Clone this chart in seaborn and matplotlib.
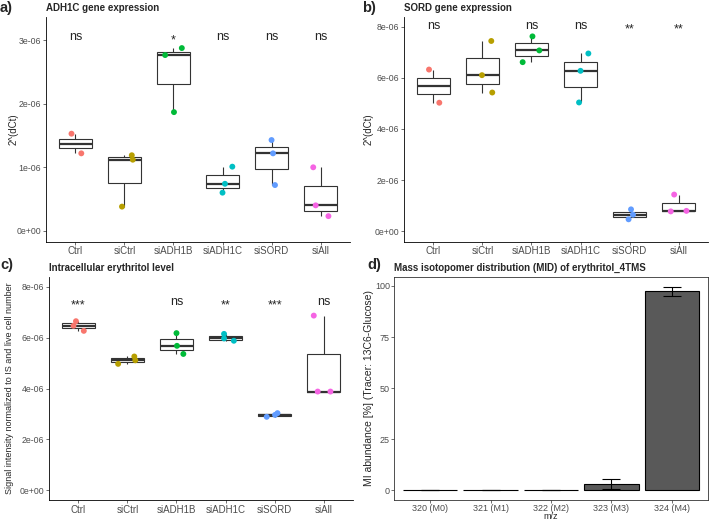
import matplotlib
matplotlib.use("Agg")
import matplotlib.pyplot as plt
from matplotlib.ticker import FuncFormatter
import pandas as pd
import seaborn as sns

groups = ["Ctrl", "siCtrl", "siADH1B", "siADH1C", "siSORD", "siAll"]
group_colors = ["#F8766D", "#B79F00", "#00BA38", "#00BFC4", "#619CFF", "#F564E3"]

# a) ADH1C expression, 2^(dCt)
adh1c_group = ["Ctrl", "Ctrl", "siCtrl", "siCtrl", "siCtrl",
               "siADH1B", "siADH1B", "siADH1B", "siADH1C", "siADH1C", "siADH1C",
               "siSORD", "siSORD", "siSORD", "siAll", "siAll", "siAll"]
adh1c_expr = [1.53e-6, 1.22e-6, 0.38e-6, 1.12e-6, 1.19e-6,
              2.77e-6, 2.88e-6, 1.87e-6, 1.01e-6, 0.74e-6, 0.60e-6,
              1.43e-6, 1.22e-6, 0.72e-6, 1.00e-6, 0.40e-6, 0.23e-6]
adh1c_jitter = [-0.08, 0.12, -0.05, 0.17, 0.15, -0.17, 0.17, 0.01, 0.20, 0.05, 0.0,
                0.0, 0.03, 0.07, -0.15, -0.10, 0.16]
adh1c_sig = ["ns", "", "*", "ns", "ns", "ns"]

# b) SORD expression
sord_group = adh1c_group
sord_expr = [6.33e-6, 5.03e-6, 7.45e-6, 6.11e-6, 5.43e-6,
             7.63e-6, 7.08e-6, 6.62e-6, 6.96e-6, 6.28e-6, 5.04e-6,
             0.85e-6, 0.64e-6, 0.46e-6, 1.43e-6, 0.77e-6, 0.79e-6]
sord_jitter = [-0.09, 0.12, 0.18, -0.01, 0.20, 0.02, 0.16, -0.18, 0.16, 0.0, -0.03,
               0.03, 0.07, -0.02, -0.09, -0.16, 0.16]
sord_sig = ["ns", "", "ns", "ns", "**", "**"]

# c) intracellular erythritol
ery_group = ["Ctrl", "Ctrl", "Ctrl", "siCtrl", "siCtrl", "siCtrl",
             "siADH1B", "siADH1B", "siADH1B", "siADH1C", "siADH1C", "siADH1C",
             "siSORD", "siSORD", "siSORD", "siAll", "siAll", "siAll"]
ery_level = [6.65e-6, 6.47e-6, 6.27e-6, 5.26e-6, 5.11e-6, 4.97e-6,
             6.18e-6, 5.68e-6, 5.36e-6, 6.15e-6, 5.97e-6, 5.88e-6,
             2.885e-6, 2.96e-6, 3.03e-6, 6.87e-6, 3.88e-6, 3.88e-6]
ery_jitter = [-0.05, -0.10, 0.11, 0.14, 0.16, -0.19, 0.0, 0.01, 0.14, -0.03, -0.03, 0.17,
              -0.16, 0.01, 0.06, -0.20, -0.12, 0.14]
ery_sig = ["***", "", "ns", "**", "***", "ns"]

# d) MID of erythritol_4TMS
mid_labels = ["320 (M0)", "321 (M1)", "322 (M2)", "323 (M3)", "324 (M4)"]
mid_mean = [0.0, 0.0, 0.0, 3.07, 97.4]
mid_sd = [0.0, 0.0, 0.0, 2.4, 2.3]

W, H = 713, 521
TICK_GREY = "#4D4D4D"
LINE_GREY = "#333333"

sns.set_theme(style="ticks")
plt.rcParams["font.family"] = ["Liberation Sans", "DejaVu Sans"]


def px_axes(fig, left, top, right, bottom):
    return fig.add_axes([left / W, 1 - bottom / H, (right - left) / W, (bottom - top) / H])


def sci(v, pos):
    return f"{v:.0e}"


def box_panel(ax, grp, vals, jit, sig, sig_y, ylim, yticks, title, ylabel,
              ylabel_x, ylabel_size=7):
    df = pd.DataFrame({"group": grp, "value": vals, "jitter": jit})
    df["x"] = df["group"].map({g: i for i, g in enumerate(groups)}) + df["jitter"]

    sns.boxplot(data=df, x="group", y="value", order=groups, color="white",
                linecolor=LINE_GREY, linewidth=0.8, width=0.68, showfliers=False,
                capprops={"linewidth": 0}, medianprops={"linewidth": 1.6},
                ax=ax)
    sns.scatterplot(data=df, x="x", y="value", hue="group", hue_order=groups,
                    palette=group_colors, legend=False, s=18, linewidth=0,
                    zorder=3, ax=ax)
    for i, lab in enumerate(sig):
        if not lab:
            continue
        # asterisks sit high in the font, nudge them down
        dy = -2.5 if lab.startswith("*") else 0
        ax.annotate(lab, (i, sig_y), xytext=(0, dy), textcoords="offset points",
                    ha="center", va="center", fontsize=9)

    ax.set_xlim(-0.6, 5.6)
    ax.set_ylim(*ylim)
    ax.set_yticks(yticks)
    ax.yaxis.set_major_formatter(FuncFormatter(sci))
    ax.set_xlabel("")
    ax.set_ylabel(ylabel, fontsize=ylabel_size)
    ax.yaxis.set_label_coords(ylabel_x, 0.5)
    ax.set_title(title, loc="left", fontsize=7, fontweight="bold", pad=4.5)
    sns.despine(ax=ax)
    for s in ("left", "bottom"):
        ax.spines[s].set_color("black")
        ax.spines[s].set_linewidth(0.6)
    ax.tick_params(color=LINE_GREY, labelcolor=TICK_GREY, length=2, width=0.5, pad=1.5)
    ax.tick_params(axis="x", labelsize=7)
    ax.tick_params(axis="y", labelsize=6.3)


fig = plt.figure(figsize=(W / 100, H / 100), dpi=100)

ax_a = px_axes(fig, 46, 17, 350, 241.5)
box_panel(ax_a, adh1c_group, adh1c_expr, adh1c_jitter, adh1c_sig, 3.06e-6,
          (-0.17e-6, 3.37e-6), [0, 1e-6, 2e-6, 3e-6],
          "ADH1C gene expression", "2^(dCt)", -0.09)

ax_b = px_axes(fig, 404, 17, 708, 241.5)
box_panel(ax_b, sord_group, sord_expr, sord_jitter, sord_sig, 8.03e-6,
          (-0.41e-6, 8.39e-6), [0, 2e-6, 4e-6, 6e-6, 8e-6],
          "SORD gene expression", "2^(dCt)", -0.10)

ax_c = px_axes(fig, 49, 277, 353, 500)
box_panel(ax_c, ery_group, ery_level, ery_jitter, ery_sig, 7.41e-6,
          (-0.39e-6, 8.39e-6), [0, 2e-6, 4e-6, 6e-6, 8e-6],
          "Intracellular erythritol level",
          "Signal intensity normalized to IS and live cell number", -0.115, 6.5)

# d) bar chart with error bars
ax_d = px_axes(fig, 394, 277, 708, 500)
mid_df = pd.DataFrame({"mz": mid_labels, "mean": mid_mean, "sd": mid_sd})
sns.barplot(data=mid_df, x="mz", y="mean", order=mid_labels, color="#595959",
            saturation=1, edgecolor="black", linewidth=0.8, width=0.9,
            errorbar=None, ax=ax_d)
ax_d.errorbar(range(len(mid_labels)), mid_df["mean"], yerr=mid_df["sd"],
              fmt="none", ecolor="black", elinewidth=0.8, capsize=6.5,
              capthick=0.8, zorder=3)
ax_d.set_xlim(-0.6, 4.6)
ax_d.set_ylim(-4.85, 104.4)
ax_d.set_yticks([0, 25, 50, 75, 100])
ax_d.set_xlabel("m/z", fontsize=6.5, va="top")
ax_d.xaxis.set_label_coords(0.5, -0.055)
ax_d.set_ylabel("MI abundance [%] (Tracer: 13C6-Glucose)", fontsize=7.5)
ax_d.yaxis.set_label_coords(-0.064, 0.5)
ax_d.set_title("Mass isotopomer distribution (MID) of erythritol_4TMS",
               loc="left", fontsize=7, fontweight="bold", pad=4.5)
for s in ax_d.spines.values():
    s.set_color(LINE_GREY)
    s.set_linewidth(0.6)
ax_d.tick_params(labelsize=6.5, labelcolor=TICK_GREY, color=LINE_GREY,
                 length=2, width=0.5, pad=1)

# panel tags
for tag, (x, y) in zip(["a)", "b)", "c)", "d)"],
                       [(0, 8), (362, 8), (0, 265), (367, 265)]):
    fig.text(x / W, 1 - y / H, tag, fontsize=10.5, fontweight="bold", va="center")

fig.savefig("out.png", dpi=100)
